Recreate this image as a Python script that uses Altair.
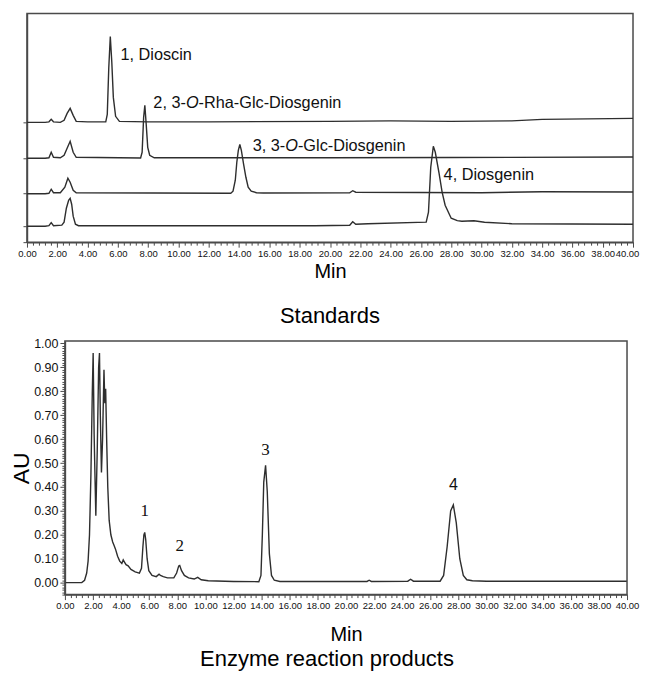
import altair as alt
import pandas as pd

# ---------------- Standards panel (stacked traces, arbitrary detector units) -------------
trace_names = ["Dioscin", "Rha-Glc-Diosgenin", "Glc-Diosgenin", "Diosgenin"]

t1 = [0, 1.2, 1.45, 1.6, 1.75, 2.2, 2.45, 2.65, 2.85, 3.05, 3.25, 4.0, 5.2, 5.3, 5.4, 5.5, 5.6, 5.7, 5.85, 6.1, 8, 12, 20, 24, 28, 32, 34, 40]
y1 = [120, 120, 120.5, 123, 120.5, 120, 122, 129, 134, 127, 121, 120.5, 120.5, 128, 175, 206, 180, 145, 126, 121, 120.5, 120.5, 121, 121.5, 121, 121.5, 123, 124]

t2 = [0, 1.2, 1.45, 1.6, 1.75, 2.2, 2.45, 2.65, 2.85, 3.05, 3.25, 7.5, 7.6, 7.7, 7.78, 7.87, 7.97, 8.1, 8.4, 20, 28, 40]
y2 = [84, 84, 84.5, 90, 85, 84.5, 87, 94, 101, 90, 85, 84.3, 90, 125, 137, 118, 95, 87, 84.5, 84.5, 84.8, 85.3]

t3 = [0, 1.2, 1.45, 1.6, 1.75, 2.2, 2.5, 2.7, 2.85, 3.05, 3.25, 13.45, 13.6, 13.75, 13.85, 13.95, 14.05, 14.15, 14.3, 14.45, 14.6, 14.8, 15.15, 15.6, 21.3, 21.5, 21.7, 30, 34, 40]
y3 = [48.5, 48.5, 49, 53, 49.5, 49.5, 55, 64, 60, 52, 49.5, 49, 51, 62, 80, 92, 98, 92, 78, 65, 55, 51, 49.5, 49.2, 49.5, 51.5, 50, 49.5, 50.5, 50.3]

t4 = [0, 1.2, 1.45, 1.6, 1.75, 2.3, 2.45, 2.6, 2.75, 2.85, 2.95, 3.05, 3.2, 3.4, 10, 19, 21.3, 21.5, 21.7, 22.5, 26.35, 26.5, 26.65, 26.82, 26.95, 27.2, 27.4, 27.6, 28.0, 28.4, 28.7, 29.5, 30.2, 32, 40]
y4 = [16, 16, 16.5, 19.5, 16.5, 17, 20, 34, 42, 44, 38, 26, 18, 16.5, 16.5, 16.5, 17, 20.5, 18, 18.5, 20, 30, 75, 96, 90, 69, 50, 37, 24, 21.5, 21, 21.5, 20, 18.5, 18]

top_yticks = [0, 16, 49, 84, 120]

ann_t = [6.17, 8.34, 14.9, 27.5]
ann_y = [187, 139, 96, 67]
ann_pre = ["1, Dioscin", "2, 3-", "3, 3-", "4, Diosgenin"]
ann_ital = ["", "O", "O", ""]
ann_post = ["", "-Rha-Glc-Diosgenin", "-Glc-Diosgenin", ""]

# ---------------- Enzyme reaction products panel -------------
prod_t = [0, 1.2, 1.4, 1.55, 1.65, 1.75, 1.85, 1.95, 2.01, 2.08, 2.12, 2.2, 2.3, 2.4, 2.46, 2.52, 2.6, 2.68,
          2.78, 2.84, 2.9, 2.97, 3.05, 3.15, 3.27, 3.4, 3.5, 3.6, 3.75, 3.9, 4.05, 4.15, 4.25, 4.35, 4.5, 4.7,
          5.0, 5.3, 5.45, 5.55, 5.62, 5.68, 5.75, 5.85, 5.97, 6.2, 6.5, 6.7, 6.8, 7.0, 7.3, 7.75, 7.95, 8.1,
          8.17, 8.3, 8.5, 8.8, 9.2, 9.45, 9.7, 10.2, 12, 13.8, 13.95, 14.05, 14.15, 14.28, 14.4, 14.55, 14.7,
          14.9, 15.3, 18, 21.5, 21.65, 21.8, 24.4, 24.6, 24.8, 26.7, 26.95, 27.2, 27.45, 27.64, 27.85, 28.1,
          28.35, 28.6, 29, 30, 35, 40]
prod_au = [0.0, 0.0, 0.01, 0.04, 0.09, 0.2, 0.45, 0.8, 0.96, 0.62, 0.5, 0.28, 0.55, 0.9, 0.96, 0.7, 0.46, 0.6,
           0.89, 0.75, 0.81, 0.6, 0.4, 0.26, 0.2, 0.17, 0.155, 0.14, 0.11, 0.09, 0.08, 0.095, 0.085, 0.075, 0.07, 0.055,
           0.045, 0.04, 0.06, 0.15, 0.2, 0.21, 0.18, 0.1, 0.05, 0.03, 0.025, 0.035, 0.03, 0.025, 0.02, 0.02, 0.04, 0.07,
           0.072, 0.05, 0.03, 0.02, 0.015, 0.022, 0.012, 0.008, 0.005, 0.004, 0.03, 0.2, 0.42, 0.49, 0.38, 0.12, 0.03,
           0.01, 0.005, 0.005, 0.005, 0.01, 0.005, 0.006, 0.014, 0.006, 0.006, 0.03, 0.15, 0.3, 0.325, 0.25, 0.1,
           0.03, 0.012, 0.008, 0.006, 0.006, 0.006]

peak_num = ["1", "2", "3", "4"]
peak_t = [5.68, 8.17, 14.28, 27.64]
peak_au = [0.30, 0.155, 0.555, 0.41]

# tick positions: labelled every 2 min / 0.10 AU, small ticks every 0.4 min / 0.01 AU
x_ticks = [round(i * 0.4, 2) for i in range(101)]
au_ticks = [round(i * 0.01, 2) for i in range(-5, 101)]

# ---------------- tables ----------------
rows = []
for name, ts, ys in zip(trace_names, [t1, t2, t3, t4], [y1, y2, y3, y4]):
    for t, y in zip(ts, ys):
        rows.append({"trace": name, "t": t, "y": y})
top_df = pd.DataFrame(rows)
ann_df = pd.DataFrame({"t": ann_t, "y": ann_y, "pre": ann_pre, "ital": ann_ital, "post": ann_post})
prod_df = pd.DataFrame({"t": prod_t, "au": prod_au})
peak_df = pd.DataFrame({"t": peak_t, "au": peak_au, "n": peak_num})

FONT = "Liberation Sans"
TICKFONT = "Liberation Sans Narrow, Liberation Sans"
INK = "#2e2e2e"
FRAME = "#4a4a4a"

X_MAJOR = "abs(datum.value / 2 - round(datum.value / 2)) < 0.001"
AU_MAJOR = "abs(datum.value * 10 - round(datum.value * 10)) < 0.001 && datum.value > -0.001"
LAST = "datum.value > 39.9"


def x_axis(title_pad, last_shift, use_offset):
    kw = dict(orient="bottom", values=x_ticks, tickCount=1000,
              labelExpr=f"{X_MAJOR} ? format(datum.value, '.2f') : ''",
              tickSize={"condition": {"test": X_MAJOR, "value": 5}, "value": 3},
              title="Min", labelFont=TICKFONT, labelFontSize=9.5, labelColor="#111", labelPadding=1,
              labelOverlap=False, labelFlush=False, titleFontSize=20, titleFontWeight="normal",
              titlePadding=title_pad, titleColor="#000", titleFont=FONT,
              domainColor=FRAME, domainWidth=1.5, tickColor=FRAME, grid=False)
    if last_shift:
        if use_offset:
            kw["labelOffset"] = {"condition": {"test": LAST, "value": last_shift}, "value": 0}
        else:
            kw["labelAlign"] = {"condition": {"test": LAST, "value": "right"}, "value": "center"}
            kw["labelFontSize"] = {"condition": {"test": LAST, "value": 8}, "value": 9.5}
    return alt.Axis(**kw)


def build(use_offset):
    # ---------------- top chart ----------------
    top_x = alt.Scale(domain=[0, 40], nice=False, zero=False)
    top_y = alt.Scale(domain=[0, 229], nice=False, zero=False)
    top_line = alt.Chart(top_df).mark_line(color=INK, strokeWidth=1.4).encode(
        x=alt.X("t:Q", scale=top_x, axis=x_axis(4, -6, use_offset)),
        y=alt.Y("y:Q", scale=top_y,
                axis=alt.Axis(values=top_yticks, tickCount=1000, labels=False, title=None, tickSize=4,
                              domainColor=FRAME, domainWidth=1.5, tickColor=FRAME, grid=False)),
        detail="trace:N",
    )
    txt_kw = dict(align="left", baseline="middle", font=FONT, fontSize=16.3, color="#111")
    ann_enc = dict(x=alt.X("t:Q", scale=top_x), y=alt.Y("y:Q", scale=top_y))
    top_pre = alt.Chart(ann_df).mark_text(dx=0, **txt_kw).encode(text="pre:N", **ann_enc)
    top_ital = alt.Chart(ann_df).mark_text(dx=32.6, fontStyle="italic", **txt_kw).encode(text="ital:N", **ann_enc)
    top_post = alt.Chart(ann_df).mark_text(dx=45.3, **txt_kw).encode(text="post:N", **ann_enc)

    top = alt.layer(top_line, top_pre, top_ital, top_post).properties(
        width=607, height=229,
        view=alt.ViewBackground(stroke=FRAME, strokeWidth=1.5),
        title=alt.TitleParams("Standards", orient="bottom", fontSize=22, fontWeight="normal", font=FONT,
                              color="#000", offset=24),
    )

    # ---------------- bottom chart ----------------
    # plot group shares the top panel's left edge; the AU scale starts 38 px further right
    bot_x = alt.Scale(domain=[0, 40], range=[38, 601], nice=False, zero=False)
    au_scale = alt.Scale(domain=[-0.05, 1.01], nice=False, zero=False)
    bot_line = alt.Chart(prod_df).mark_line(color=INK, strokeWidth=1.4).encode(
        x=alt.X("t:Q", scale=bot_x, axis=x_axis(14, 0, use_offset)),
        y=alt.Y("au:Q", scale=au_scale,
                axis=alt.Axis(values=au_ticks, tickCount=1000, offset=-38,
                              labelExpr=f"{AU_MAJOR} ? format(datum.value, '.2f') : ''",
                              tickSize={"condition": {"test": AU_MAJOR, "value": 5}, "value": 3},
                              title="AU", labelFont=FONT, labelFontSize=12.5,
                              labelColor="#111", labelPadding=2, labelOverlap=False, labelFlush=False,
                              titleFontSize=23, titleFontWeight="normal", titleColor="#000", titlePadding=0,
                              titleFont=FONT, domainColor=FRAME, domainWidth=1.5, tickColor=FRAME, grid=False)),
    )
    frame = alt.Chart(pd.DataFrame({"frame": [1]})).mark_rect(
        fill="transparent", stroke=FRAME, strokeWidth=1.5).encode(
        x=alt.X(datum=0, type="quantitative", scale=bot_x),
        x2=alt.X2(datum=40),
        y=alt.Y(datum=-0.05, type="quantitative", scale=au_scale),
        y2=alt.Y2(datum=1.01),
    )
    serif_txt = alt.Chart(peak_df).transform_filter("datum.n != '4'").mark_text(
        font="Liberation Serif", fontSize=17, color="#111", baseline="middle", align="center").encode(
        x=alt.X("t:Q", scale=bot_x), y=alt.Y("au:Q", scale=au_scale), text="n:N")
    sans_txt = alt.Chart(peak_df).transform_filter("datum.n == '4'").mark_text(
        font=FONT, fontSize=16, color="#111", baseline="middle", align="center").encode(
        x=alt.X("t:Q", scale=bot_x), y=alt.Y("au:Q", scale=au_scale), text="n:N")

    bottom = alt.layer(bot_line, frame, serif_txt, sans_txt).properties(
        width=601, height=254,
        view=alt.ViewBackground(stroke="transparent"),
        title=alt.TitleParams("Enzyme reaction products", orient="bottom", fontSize=22, fontWeight="normal",
                              font=FONT, color="#000", offset=5),
    )

    return alt.vconcat(top, bottom, spacing=8).properties(
        padding={"left": 2, "top": 4, "right": 0, "bottom": 0},
    ).configure(font=FONT, background="white")


try:
    chart = build(True)
    chart.to_dict()
except Exception:
    chart = build(False)

chart.save("out.html", embed_options={"renderer": "svg", "actions": False})
